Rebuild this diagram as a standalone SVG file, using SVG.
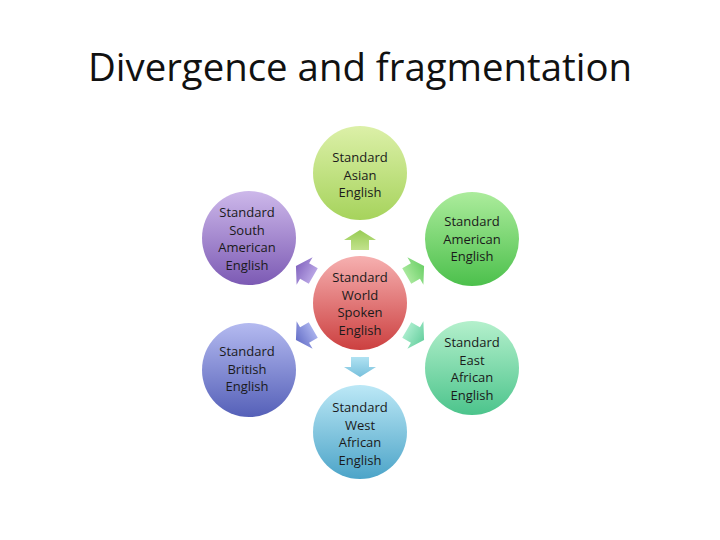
<svg xmlns="http://www.w3.org/2000/svg" width="720" height="540" viewBox="0 0 720 540">
<defs>
<linearGradient id="gAsian" x1="0" y1="0" x2="0" y2="1"><stop offset="0" stop-color="#dcf0a8"/><stop offset="1" stop-color="#a6d35c"/></linearGradient>
<linearGradient id="gWorld" x1="0" y1="0" x2="0" y2="1"><stop offset="0" stop-color="#f6b0b0"/><stop offset="1" stop-color="#cc4040"/></linearGradient>
<linearGradient id="gSAm" x1="0" y1="0" x2="0" y2="1"><stop offset="0" stop-color="#cdb8ea"/><stop offset="1" stop-color="#7c5ab4"/></linearGradient>
<linearGradient id="gBrit" x1="0" y1="0" x2="0" y2="1"><stop offset="0" stop-color="#b4baf0"/><stop offset="1" stop-color="#5560b8"/></linearGradient>
<linearGradient id="gAm" x1="0" y1="0" x2="0" y2="1"><stop offset="0" stop-color="#acec9c"/><stop offset="1" stop-color="#4cc04c"/></linearGradient>
<linearGradient id="gEAf" x1="0" y1="0" x2="0" y2="1"><stop offset="0" stop-color="#b4f0cc"/><stop offset="1" stop-color="#4cc48c"/></linearGradient>
<linearGradient id="gWAf" x1="0" y1="0" x2="0" y2="1"><stop offset="0" stop-color="#bce8f6"/><stop offset="1" stop-color="#4ca4c8"/></linearGradient>
<linearGradient id="aUp" x1="0" y1="0" x2="1" y2="0"><stop offset="0" stop-color="#c2e28c"/><stop offset="1" stop-color="#98cc54"/></linearGradient>
<linearGradient id="aUR" x1="0" y1="0" x2="1" y2="0"><stop offset="0" stop-color="#a8e89c"/><stop offset="1" stop-color="#6cd068"/></linearGradient>
<linearGradient id="aLR" x1="0" y1="0" x2="1" y2="0"><stop offset="0" stop-color="#a8eccc"/><stop offset="1" stop-color="#68d0a0"/></linearGradient>
<linearGradient id="aDn" x1="0" y1="0" x2="1" y2="0"><stop offset="0" stop-color="#b0e2f2"/><stop offset="1" stop-color="#78c0dc"/></linearGradient>
<linearGradient id="aLL" x1="0" y1="0" x2="1" y2="0"><stop offset="0" stop-color="#a8b0ec"/><stop offset="1" stop-color="#6670c8"/></linearGradient>
<linearGradient id="aUL" x1="0" y1="0" x2="1" y2="0"><stop offset="0" stop-color="#b8a4e4"/><stop offset="1" stop-color="#8466c0"/></linearGradient>
<path id="arr" d="M-10,-9 L0,-9 L0,-16 L10,0 L0,16 L0,9 L-10,9 Z"/>
</defs>
<style>
.t{font-family:"Open Sans","Liberation Sans",sans-serif;font-size:13px;fill:#1a1a1a;text-anchor:middle}
.title{font-family:"Open Sans","Liberation Sans",sans-serif;font-size:39px;fill:#111;text-anchor:middle}
</style>
<rect width="720" height="540" fill="#ffffff"/>
<text class="title" x="360" y="81" textLength="544" lengthAdjust="spacingAndGlyphs">Divergence and fragmentation</text>

<g id="connectors">
<use href="#arr" fill="url(#aUp)" transform="translate(360,240) rotate(-90)"/>
<use href="#arr" fill="url(#aUR)" transform="translate(415.4,271) rotate(-30)"/>
<use href="#arr" fill="url(#aLR)" transform="translate(415.4,335) rotate(30)"/>
<use href="#arr" fill="url(#aDn)" transform="translate(360,367) rotate(90)"/>
<use href="#arr" fill="url(#aLL)" transform="translate(304.6,335) rotate(150)"/>
<use href="#arr" fill="url(#aUL)" transform="translate(304.6,271) rotate(210)"/>
</g>

<g id="world">
<circle cx="360" cy="303" r="47" fill="url(#gWorld)"/>
<text class="t" x="360" y="282">Standard</text>
<text class="t" x="360" y="299.5">World</text>
<text class="t" x="360" y="317">Spoken</text>
<text class="t" x="360" y="334.5">English</text>
</g>

<g id="asian">
<circle cx="360" cy="173" r="47" fill="url(#gAsian)"/>
<text class="t" x="360" y="162">Standard</text>
<text class="t" x="360" y="179.5">Asian</text>
<text class="t" x="360" y="197">English</text>
</g>

<g id="south-american">
<circle cx="249" cy="238" r="47" fill="url(#gSAm)"/>
<text class="t" x="247" y="217">Standard</text>
<text class="t" x="247" y="234.5">South</text>
<text class="t" x="247" y="252">American</text>
<text class="t" x="247" y="269.5">English</text>
</g>

<g id="british">
<circle cx="249" cy="370" r="47" fill="url(#gBrit)"/>
<text class="t" x="247" y="356">Standard</text>
<text class="t" x="247" y="373.5">British</text>
<text class="t" x="247" y="391">English</text>
</g>

<g id="american">
<circle cx="472" cy="239" r="47" fill="url(#gAm)"/>
<text class="t" x="472" y="226">Standard</text>
<text class="t" x="472" y="243.5">American</text>
<text class="t" x="472" y="261">English</text>
</g>

<g id="east-african">
<circle cx="472" cy="368" r="47" fill="url(#gEAf)"/>
<text class="t" x="472" y="347">Standard</text>
<text class="t" x="472" y="364.5">East</text>
<text class="t" x="472" y="382">African</text>
<text class="t" x="472" y="399.5">English</text>
</g>

<g id="west-african">
<circle cx="360" cy="432" r="47" fill="url(#gWAf)"/>
<text class="t" x="360" y="412">Standard</text>
<text class="t" x="360" y="429.5">West</text>
<text class="t" x="360" y="447">African</text>
<text class="t" x="360" y="464.5">English</text>
</g>
</svg>
